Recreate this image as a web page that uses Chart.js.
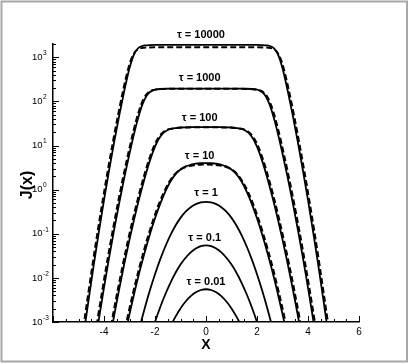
<!DOCTYPE html>
<html>
<head>
<meta charset="utf-8">
<script src="https://cdn.jsdelivr.net/npm/chart.js@4.4.0/dist/chart.umd.min.js"></script>
<style>
  html, body { margin: 0; padding: 0; background: #fff; }
  #wrap { width: 409px; height: 364px; }
</style>
</head>
<body>
<div id="wrap"><canvas id="myChart" width="409" height="364"></canvas></div>
<script>
// values (J on a log axis)
const xT10000 = [-5.0,-4.8,-4.6,-4.4,-4.2,-4.0,-3.8,-3.6,-3.4,-3.2,-3.1,-3.0,-2.9,-2.8,-2.7,-2.6,-2.5,-2.4,-2.2,-2.0,-1.0,0,1.0,2.0,2.2,2.4,2.5,2.6,2.7,2.8,2.9,3.0,3.1,3.2,3.4,3.6,3.8,4.0,4.2,4.4,4.6,4.8,5.0];
const jT10000 = [7.1e-5,5.1e-4,3.3e-3,0.020,0.112,0.577,2.75,12.1,48.9,179,327,562,885,1233,1521,1706,1803,1854,1892,1902,1905,1905,1905,1902,1892,1854,1803,1706,1521,1233,885,562,327,179,48.9,12.1,2.75,0.577,0.112,0.020,3.3e-3,5.1e-4,7.1e-5];
const xT10000d = [-5.05,-4.85,-4.65,-4.45,-4.25,-4.05,-3.85,-3.65,-3.45,-3.25,-3.15,-3.05,-2.95,-2.85,-2.75,-2.65,-2.55,-2.45,-2.25,-2.05,-1.0,0,1.0,2.05,2.25,2.45,2.55,2.65,2.75,2.85,2.95,3.05,3.15,3.25,3.45,3.65,3.85,4.05,4.25,4.45,4.65,4.85,5.05];
const jT10000d = [7.1e-5,5.1e-4,3.3e-3,0.020,0.112,0.577,2.75,12.1,48.9,179,323,551,853,1153,1393,1535,1614,1648,1675,1683,1687,1687,1687,1683,1675,1648,1614,1535,1393,1153,853,551,323,179,48.9,12.1,2.75,0.577,0.112,0.020,3.3e-3,5.1e-4,7.1e-5];

const xT1000 = [-4.4,-4.2,-4.0,-3.8,-3.6,-3.4,-3.2,-3.0,-2.9,-2.8,-2.7,-2.6,-2.5,-2.4,-2.3,-2.2,-2.1,-2.0,-1.8,-1.5,-1.0,0,1.0,1.5,1.8,2.0,2.1,2.2,2.3,2.4,2.5,2.6,2.7,2.8,2.9,3.0,3.2,3.4,3.6,3.8,4.0,4.2,4.4];
const jT1000 = [2.1e-4,1.17e-3,6.04e-3,0.0288,0.126,0.512,1.92,6.59,11.8,20.7,34.8,55.7,83.4,113,142,163,176,184,191,194,195,195,195,194,191,184,176,163,142,113,83.4,55.7,34.8,20.7,11.8,6.59,1.92,0.512,0.126,0.0288,6.04e-3,1.17e-3,2.1e-4];
const xT1000d = [-4.45,-4.25,-4.05,-3.85,-3.65,-3.45,-3.25,-3.05,-2.95,-2.85,-2.75,-2.65,-2.55,-2.45,-2.35,-2.25,-2.15,-2.05,-1.85,-1.55,-1.0,0,1.0,1.55,1.85,2.05,2.15,2.25,2.35,2.45,2.55,2.65,2.75,2.85,2.95,3.05,3.25,3.45,3.65,3.85,4.05,4.25,4.45];
const jT1000d = [2.1e-4,1.17e-3,6.04e-3,0.0288,0.126,0.512,1.92,6.59,11.8,20.7,34.8,55.7,83.2,113,141,162,175,182,189,192,193,193,193,192,189,182,175,162,141,113,83.2,55.7,34.8,20.7,11.8,6.59,1.92,0.512,0.126,0.0288,6.04e-3,1.17e-3,2.1e-4];

const xT100 = [-3.8,-3.6,-3.4,-3.2,-3.0,-2.8,-2.6,-2.4,-2.2,-2.0,-1.9,-1.8,-1.7,-1.6,-1.5,-1.4,-1.2,-1.0,-0.5,0,0.5,1.0,1.2,1.4,1.5,1.6,1.7,1.8,1.9,2.0,2.2,2.4,2.6,2.8,3.0,3.2,3.4,3.6,3.8];
const jT100 = [3.2e-4,1.42e-3,5.74e-3,0.0215,0.0743,0.237,0.697,1.87,4.54,9.40,12.5,15.6,18.5,20.7,22.5,23.7,24.9,25.6,26.1,26.2,26.1,25.6,24.9,23.7,22.5,20.7,18.5,15.6,12.5,9.40,4.54,1.87,0.697,0.237,0.0743,0.0215,5.74e-3,1.42e-3,3.2e-4];
const xT100d = [-3.85,-3.65,-3.45,-3.25,-3.05,-2.85,-2.65,-2.45,-2.25,-2.05,-1.95,-1.85,-1.75,-1.65,-1.55,-1.45,-1.25,-1.05,-0.55,0,0.55,1.05,1.25,1.45,1.55,1.65,1.75,1.85,1.95,2.05,2.25,2.45,2.65,2.85,3.05,3.25,3.45,3.65,3.85];
const jT100d = [3.2e-4,1.42e-3,5.74e-3,0.0215,0.0743,0.237,0.697,1.87,4.54,9.40,12.5,15.6,18.5,20.7,22.4,23.5,24.6,25.3,25.8,25.9,25.8,25.3,24.6,23.5,22.4,20.7,18.5,15.6,12.5,9.40,4.54,1.87,0.697,0.237,0.0743,0.0215,5.74e-3,1.42e-3,3.2e-4];

const xT10 = [-3.2,-3.0,-2.8,-2.6,-2.4,-2.2,-2.0,-1.8,-1.6,-1.4,-1.2,-1.0,-0.8,-0.6,-0.4,-0.2,0,0.2,0.4,0.6,0.8,1.0,1.2,1.4,1.6,1.8,2.0,2.2,2.4,2.6,2.8,3.0,3.2];
const jT10 = [4.4e-4,1.52e-3,4.84e-3,0.0143,0.0387,0.0973,0.224,0.471,0.891,1.51,2.22,2.86,3.36,3.67,3.87,3.96,3.99,3.96,3.87,3.67,3.36,2.86,2.22,1.51,0.891,0.471,0.224,0.0973,0.0387,0.0143,4.84e-3,1.52e-3,4.4e-4];
const xT10d = [-3.25,-3.05,-2.85,-2.65,-2.45,-2.25,-2.05,-1.85,-1.65,-1.45,-1.25,-1.05,-0.85,-0.65,-0.45,-0.25,0,0.25,0.45,0.65,0.85,1.05,1.25,1.45,1.65,1.85,2.05,2.25,2.45,2.65,2.85,3.05,3.25];
const jT10d = [4.4e-4,1.52e-3,4.84e-3,0.0143,0.0387,0.0973,0.224,0.470,0.885,1.48,2.15,2.77,3.16,3.44,3.59,3.68,3.70,3.68,3.59,3.44,3.16,2.77,2.15,1.48,0.885,0.470,0.224,0.0973,0.0387,0.0143,4.84e-3,1.52e-3,4.4e-4];

const xT1 = [-2.8,-2.6,-2.4,-2.2,-2.0,-1.8,-1.6,-1.4,-1.2,-1.0,-0.8,-0.6,-0.4,-0.2,0,0.2,0.4,0.6,0.8,1.0,1.2,1.4,1.6,1.8,2.0,2.2,2.4,2.6,2.8];
const jT1 = [2.6e-4,7.66e-4,2.08e-3,5.22e-3,0.0121,0.0259,0.0507,0.0918,0.152,0.229,0.316,0.400,0.468,0.512,0.526,0.512,0.468,0.400,0.316,0.229,0.152,0.0918,0.0507,0.0259,0.0121,5.22e-3,2.08e-3,7.66e-4,2.6e-4];

const xT01 = [-2.2,-2.0,-1.8,-1.6,-1.4,-1.2,-1.0,-0.8,-0.6,-0.4,-0.2,0,0.2,0.4,0.6,0.8,1.0,1.2,1.4,1.6,1.8,2.0,2.2];
const jT01 = [4.3e-4,9.95e-4,2.13e-3,4.2e-3,7.65e-3,0.0129,0.0200,0.0286,0.0379,0.0463,0.0522,0.0543,0.0522,0.0463,0.0379,0.0286,0.0200,0.0129,7.65e-3,4.2e-3,2.13e-3,9.95e-4,4.3e-4];

const xT001 = [-1.6,-1.4,-1.2,-1.0,-0.8,-0.6,-0.4,-0.2,0,0.2,0.4,0.6,0.8,1.0,1.2,1.4,1.6];
const jT001 = [4.27e-4,7.78e-4,1.31e-3,2.03e-3,2.91e-3,3.85e-3,4.70e-3,5.31e-3,5.52e-3,5.31e-3,4.70e-3,3.85e-3,2.91e-3,2.03e-3,1.31e-3,7.78e-4,4.27e-4];

// curve labels and where they sit (data coords)
const tauLabels = ['τ = 10000', 'τ = 1000', 'τ = 100', 'τ = 10', 'τ = 1', 'τ = 0.1', 'τ = 0.01'];
const labelX = [-0.2, -0.25, -0.25, -0.25, 0, -0.05, 0];
const labelJ = [3130, 348, 41.1, 5.77, 0.846, 0.0811, 0.00811];

// tick labels
const xTickValues = [-4, -2, 0, 2, 4, 6];
const yTickValues = [1e-3, 1e-2, 1e-1, 1, 10, 100, 1000];
const yTickExps = ['-3', '-2', '-1', '0', '1', '2', '3'];

const FONT = "'Liberation Sans', Arial, Helvetica, sans-serif";

function pts(xs, ys) {
    return xs.map((x, i) => ({ x: x, y: ys[i] }));
}

function curve(xs, ys, dashed) {
    return {
        data: pts(xs, ys),
        borderColor: '#000',
        borderWidth: dashed ? 2 : 1.8,
        borderDash: dashed ? [6, 3] : [],
        pointRadius: 0,
        fill: false,
        cubicInterpolationMode: 'monotone'
    };
}

const decorations = {
    id: 'decorations',
    afterDraw(chart) {
        const ctx = chart.ctx;
        const xs = chart.scales.x;
        const ys = chart.scales.y;
        const area = chart.chartArea;
        ctx.save();

        // inward tick marks
        ctx.strokeStyle = '#000';
        ctx.lineWidth = 1;
        ctx.beginPath();
        yTickValues.forEach(v0 => {
            for (let m = 1; m <= 9; m++) {
                const v = m * v0;
                if (v > ys.max * 1.0001) break;
                const py = Math.round(ys.getPixelForValue(v)) + 0.5;
                ctx.moveTo(area.left, py);
                ctx.lineTo(area.left + (m === 1 ? 6 : 3), py);
            }
        });
        for (let v = xs.min; v <= xs.max + 1e-9; v += 0.5) {
            const px = Math.round(xs.getPixelForValue(v)) + 0.5;
            const major = Math.abs(v % 2) < 1e-9;
            ctx.moveTo(px, area.bottom);
            ctx.lineTo(px, area.bottom - (major ? 6 : 3));
        }
        ctx.stroke();

        // y tick labels 10^n
        ctx.fillStyle = '#000';
        ctx.textBaseline = 'middle';
        ctx.textAlign = 'left';
        yTickValues.forEach((v, i) => {
            const py = ys.getPixelForValue(v);
            ctx.font = '9.5px ' + FONT;
            ctx.fillText('10', 32, py);
            const w = ctx.measureText('10').width;
            ctx.font = '6.5px ' + FONT;
            ctx.fillText(yTickExps[i], 32 + w + 0.5, py - 4);
        });

        // axis titles
        ctx.textAlign = 'center';
        ctx.font = 'bold 14px ' + FONT;
        ctx.fillText('X', xs.getPixelForValue(0), 345);
        ctx.save();
        ctx.translate(28, 185);
        ctx.rotate(-Math.PI / 2);
        ctx.font = 'bold 16px ' + FONT;
        ctx.fillText('J(x)', 0, 0);
        ctx.restore();

        // curve labels
        ctx.font = 'bold 11px ' + FONT;
        tauLabels.forEach((t, i) => {
            ctx.fillText(t, xs.getPixelForValue(labelX[i]), ys.getPixelForValue(labelJ[i]));
        });

        // outer frame
        ctx.strokeStyle = '#a8a8a8';
        ctx.lineWidth = 2;
        ctx.strokeRect(1.5, 1.5, 405.5, 360);
        ctx.restore();
    }
};

new Chart('myChart', {
    type: 'line',
    data: {
        datasets: [
            curve(xT10000, jT10000, false),
            curve(xT10000d, jT10000d, true),
            curve(xT1000, jT1000, false),
            curve(xT1000d, jT1000d, true),
            curve(xT100, jT100, false),
            curve(xT100d, jT100d, true),
            curve(xT10, jT10, false),
            curve(xT10d, jT10d, true),
            curve(xT1, jT1, false),
            curve(xT01, jT01, false),
            curve(xT001, jT001, false)
        ]
    },
    options: {
        responsive: false,
        animation: false,
        layout: { padding: { top: 44, right: 50, bottom: 0, left: 0 } },
        plugins: {
            legend: { display: false },
            tooltip: { enabled: false }
        },
        scales: {
            x: {
                type: 'linear',
                min: -6,
                max: 6,
                border: { display: true, color: '#000', width: 1.5 },
                grid: { display: false, drawTicks: false },
                ticks: {
                    stepSize: 2,
                    padding: 4,
                    autoSkip: false,
                    maxRotation: 0,
                    color: '#000',
                    font: { family: FONT, size: 10 },
                    callback: v => xTickValues.includes(v) ? String(v) : ''
                },
                afterFit: s => { s.height = 42; }
            },
            y: {
                type: 'logarithmic',
                min: 1e-3,
                max: 2000,
                border: { display: true, color: '#000', width: 1.5 },
                grid: { display: false, drawTicks: false },
                ticks: { display: false },
                afterFit: s => { s.width = 53; }
            }
        }
    },
    plugins: [decorations]
});
</script>
</body>
</html>
